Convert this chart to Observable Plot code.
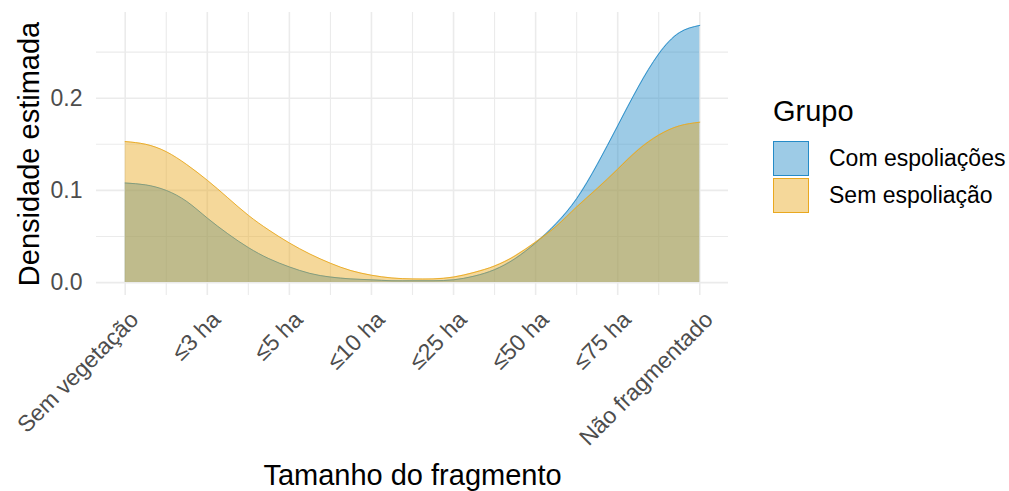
<!DOCTYPE html>
<html><head><meta charset="utf-8">
<script src="https://cdn.jsdelivr.net/npm/d3@7"></script>
<script src="https://cdn.jsdelivr.net/npm/@observablehq/plot@0.6"></script>
<style>
body{margin:0;background:#fff;font-family:"Liberation Sans",Arial,sans-serif;}
#wrap{position:relative;width:1009px;height:491px;overflow:hidden;}
#wrap svg{display:block;}
[aria-label="y-axis label"], [aria-label="x-axis label"]{font-size:29px;fill:#000;}
.legend{position:absolute;left:773px;top:96px;color:#000;}
.legend .title{font-size:29px;line-height:30px;height:44px;}
.legend .row{display:flex;align-items:center;height:37px;}
.legend .key{width:34px;height:33px;margin-right:20px;}
.legend .lab{font-size:23px;}
</style></head><body><div id="wrap"></div>
<script>
const categories = ["Sem vegetação","≤3 ha","≤5 ha","≤10 ha","≤25 ha","≤50 ha","≤75 ha","Não fragmentado"];
const groups = ["Com espoliações","Sem espoliação"];
const groupColors = ["#258BC7","#E9A81F"];
const xPositions = [1,1.25,1.5,1.75,2,2.25,2.5,2.75,3,3.25,3.5,3.75,4,4.25,4.5,4.75,5,5.25,5.5,5.75,6,6.25,6.5,6.75,7,7.25,7.5,7.75,8];
const densComEspoliacoes = [0.108,0.106,0.100,0.088,0.070,0.053,0.038,0.026,0.017,0.010,0.006,0.004,0.003,0.002,0.002,0.002,0.003,0.007,0.014,0.026,0.043,0.064,0.091,0.128,0.170,0.212,0.248,0.271,0.279];
const densSemEspoliacao = [0.153,0.150,0.142,0.128,0.111,0.092,0.073,0.057,0.043,0.031,0.021,0.013,0.008,0.005,0.004,0.004,0.006,0.011,0.018,0.029,0.044,0.061,0.082,0.102,0.123,0.144,0.160,0.170,0.174];
const yTicks = [0,0.1,0.2];
const yMinorTicks = [0.05,0.15,0.25];
const xTicks = categories.map((c,i)=>i+1);
const xMinorTicks = xTicks.slice(1).map(v=>v-0.5);

const com = xPositions.map((x,i)=>({x, y:densComEspoliacoes[i], group:groups[0]}));
const sem = xPositions.map((x,i)=>({x, y:densSemEspoliacao[i], group:groups[1]}));
const curve = "natural";
const grid = "#EBEBEB";

const chart = Plot.plot({
  width:1009, height:491,
  marginLeft:96, marginRight:281, marginTop:12, marginBottom:196,
  style:{fontFamily:"'Liberation Sans', Arial, sans-serif", background:"#fff", overflow:"visible"},
  x:{domain:[0.65,8.35]},
  y:{domain:[-0.014,0.293]},
  marks:[
    Plot.ruleX(xMinorTicks,{stroke:grid,strokeWidth:1.1}),
    Plot.ruleY(yMinorTicks,{stroke:grid,strokeWidth:1.1}),
    Plot.ruleX(xTicks,{stroke:grid,strokeWidth:1.6}),
    Plot.ruleY(yTicks,{stroke:grid,strokeWidth:1.6}),
    Plot.areaY(com,{x:"x",y:"y",fill:groupColors[0],fillOpacity:0.45,curve}),
    Plot.lineY(com,{x:"x",y:"y",stroke:groupColors[0],strokeWidth:0.9,curve}),
    Plot.areaY(sem,{x:"x",y:"y",fill:groupColors[1],fillOpacity:0.45,curve}),
    Plot.lineY(sem,{x:"x",y:"y",stroke:groupColors[1],strokeWidth:0.9,curve}),
    Plot.axisY(yTicks,{tickSize:0,tickPadding:14,fontSize:23,color:"#4D4D4D",tickFormat:d3.format(".1f"),
      label:"Densidade estimada",labelAnchor:"center",labelOffset:78,labelArrow:"none"}),
    Plot.axisX(xTicks,{tickSize:0,tickPadding:14,dx:3,tickRotate:-45,textAnchor:"end",lineAnchor:"top",fontSize:23,color:"#4D4D4D",
      tickFormat:d=>categories[d-1],label:"Tamanho do fragmento",labelAnchor:"center",labelOffset:189,labelArrow:"none"})
  ]
});
const wrap = document.getElementById("wrap");
wrap.appendChild(chart);

const legend = document.createElement("div");
legend.className = "legend";
let html = '<div class="title">Grupo</div>';
groups.forEach((g,i)=>{
  const c = d3.color(groupColors[i]);
  const fill = `rgba(${c.r},${c.g},${c.b},0.45)`;
  html += `<div class="row"><div class="key" style="background:${fill};border:1px solid ${groupColors[i]}"></div><div class="lab">${g}</div></div>`;
});
legend.innerHTML = html;
wrap.appendChild(legend);
</script></body></html>
